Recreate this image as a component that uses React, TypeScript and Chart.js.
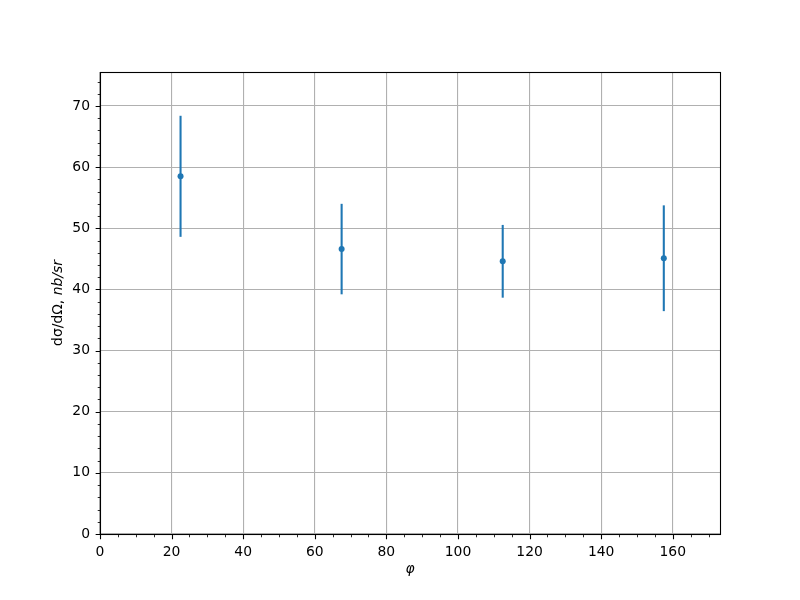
import React, { useEffect, useRef } from "react";
import { Chart, registerables } from "chart.js";

Chart.register(...registerables);

const phi = [22.5, 67.5, 112.5, 157.5];
const sigma = [58.5, 46.6, 44.6, 45.1];
const sigmaErr = [9.9, 7.4, 5.95, 8.65];
const xTickValues = [0, 20, 40, 60, 80, 100, 120, 140, 160];
const yTickValues = [0, 10, 20, 30, 40, 50, 60, 70];
const xMinorStep = 5;
const yMinorStep = 2;
const xRange = [0, 173.2];
const yRange = [0, 75.56];

const BLUE = "#1f77b4";
const FONT = "'DejaVu Sans', sans-serif";

const overlayPlugin = {
  id: "overlay",
  beforeDatasetsDraw(chart: any) {
    const ctx = chart.ctx;
    const xs = chart.scales.x;
    const ys = chart.scales.y;
    ctx.save();
    ctx.strokeStyle = BLUE;
    ctx.lineWidth = 2.08;
    for (let i = 0; i < phi.length; i++) {
      const px = xs.getPixelForValue(phi[i]);
      const top = ys.getPixelForValue(sigma[i] + sigmaErr[i]);
      const bot = ys.getPixelForValue(sigma[i] - sigmaErr[i]);
      ctx.beginPath();
      ctx.moveTo(px, top);
      ctx.lineTo(px, bot);
      ctx.stroke();
    }
    ctx.restore();
  },
  afterDraw(chart: any) {
    const ctx = chart.ctx;
    const xs = chart.scales.x;
    const ys = chart.scales.y;
    const a = chart.chartArea;
    const L = Math.round(a.left) + 0.5;
    const R = Math.round(a.right) + 0.5;
    const T = Math.round(a.top) + 0.5;
    const B = Math.round(a.bottom) + 0.5;
    ctx.save();
    ctx.strokeStyle = "#000";
    // major ticks
    ctx.lineWidth = 1.1;
    ctx.beginPath();
    for (const v of xTickValues) {
      const p = Math.round(xs.getPixelForValue(v)) + 0.5;
      ctx.moveTo(p, B);
      ctx.lineTo(p, B + 4.86);
    }
    for (const v of yTickValues) {
      const p = Math.round(ys.getPixelForValue(v)) + 0.5;
      ctx.moveTo(L, p);
      ctx.lineTo(L - 4.86, p);
    }
    ctx.stroke();
    // minor ticks
    ctx.lineWidth = 0.83;
    ctx.beginPath();
    for (let v = xRange[0]; v <= xRange[1]; v += xMinorStep) {
      if (xTickValues.includes(v)) continue;
      const p = Math.round(xs.getPixelForValue(v)) + 0.5;
      ctx.moveTo(p, B);
      ctx.lineTo(p, B + 2.78);
    }
    for (let v = yRange[0]; v <= yRange[1]; v += yMinorStep) {
      if (yTickValues.includes(v)) continue;
      const p = Math.round(ys.getPixelForValue(v)) + 0.5;
      ctx.moveTo(L, p);
      ctx.lineTo(L - 2.78, p);
    }
    ctx.stroke();
    // frame
    ctx.lineWidth = 1.1;
    ctx.strokeRect(L, T, R - L, B - T);

    // axis labels
    ctx.fillStyle = "#000";
    ctx.font = `italic 13.9px ${FONT}`;
    ctx.textAlign = "center";
    ctx.textBaseline = "middle";
    ctx.fillText("φ", (a.left + a.right) / 2, 569);

    const part1 = "dσ/dΩ, ";
    const part2 = "nb/sr";
    ctx.font = `13.9px ${FONT}`;
    const w1 = ctx.measureText(part1).width;
    ctx.font = `italic 13.9px ${FONT}`;
    const w2 = ctx.measureText(part2).width;
    const total = w1 + w2;
    ctx.translate(58, (a.top + a.bottom) / 2);
    ctx.rotate(-Math.PI / 2);
    ctx.textAlign = "left";
    ctx.font = `13.9px ${FONT}`;
    ctx.fillText(part1, -total / 2, 0);
    ctx.font = `italic 13.9px ${FONT}`;
    ctx.fillText(part2, -total / 2 + w1, 0);
    ctx.restore();
  },
};

export default function App() {
  const ref = useRef<HTMLCanvasElement>(null);
  useEffect(() => {
    if (!ref.current) return;
    const chart = new Chart(ref.current, {
      type: "scatter",
      data: {
        datasets: [
          {
            label: "data",
            data: phi.map((x, i) => ({ x, y: sigma[i] })),
            backgroundColor: BLUE,
            borderColor: BLUE,
            pointRadius: 3,
            pointBorderWidth: 0,
            showLine: false,
          },
        ],
      },
      options: {
        responsive: false,
        animation: false,
        layout: { padding: { top: 72, right: 80, left: 0, bottom: 0 } },
        plugins: { legend: { display: false }, tooltip: { enabled: false } },
        scales: {
          x: {
            type: "linear",
            min: xRange[0],
            max: xRange[1],
            afterBuildTicks: (s: any) => {
              s.ticks = xTickValues.map((v) => ({ value: v }));
            },
            afterFit: (s: any) => {
              s.height = 66;
            },
            grid: { color: "#b0b0b0", lineWidth: 1.1, drawTicks: false },
            border: { display: false },
            ticks: {
              padding: 10,
              color: "#000",
              maxRotation: 0,
              font: { family: FONT, size: 13.9 },
            },
          },
          y: {
            type: "linear",
            min: yRange[0],
            max: yRange[1],
            afterBuildTicks: (s: any) => {
              s.ticks = yTickValues.map((v) => ({ value: v }));
            },
            afterFit: (s: any) => {
              s.width = 100;
            },
            grid: { color: "#b0b0b0", lineWidth: 1.1, drawTicks: false },
            border: { display: false },
            ticks: {
              padding: 10,
              color: "#000",
              font: { family: FONT, size: 13.9 },
            },
          },
        },
      },
      plugins: [overlayPlugin],
    });
    return () => chart.destroy();
  }, []);
  return (
    <div style={{ position: "absolute", left: 0, top: 0, width: 800, height: 600, background: "#fff" }}>
      <canvas ref={ref} width={800} height={600} />
    </div>
  );
}
